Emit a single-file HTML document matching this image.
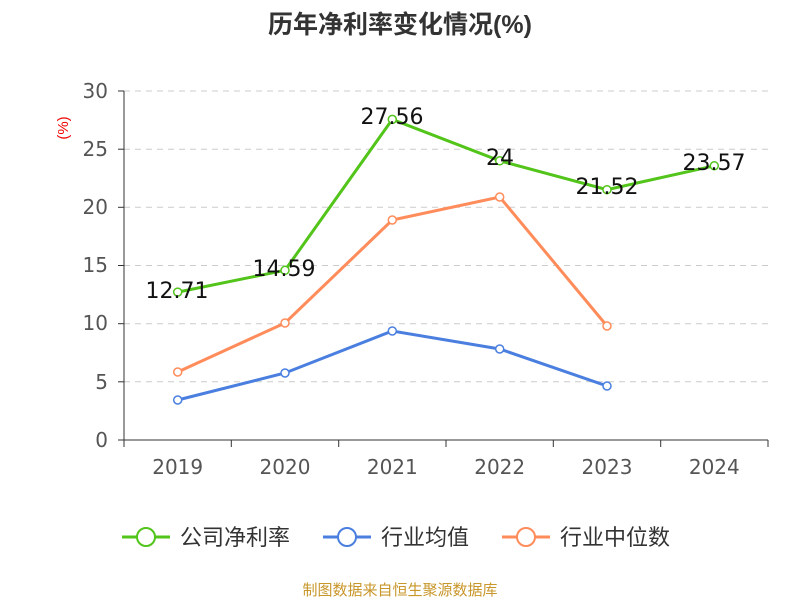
<!DOCTYPE html>
<html><head><meta charset="utf-8"><style>
body{margin:0;background:#fff;}
svg text{font-family:"Liberation Sans","Noto Sans CJK SC",sans-serif;}
svg .n{font-family:"DejaVu Sans",sans-serif;}
</style></head><body>
<svg width="800" height="600" xmlns="http://www.w3.org/2000/svg">
<text x="400" y="33" text-anchor="middle" font-size="25" font-weight="bold" fill="#333">历年净利率变化情况(%)</text>
<text x="68" y="128" text-anchor="middle" font-size="15" fill="#e00" transform="rotate(-90 68 128)">(%)</text>
<g stroke="#ccc" stroke-dasharray="6,5" stroke-width="1">
<line x1="124" x2="768" y1="91" y2="91"/><line x1="124" x2="768" y1="149.2" y2="149.2"/>
<line x1="124" x2="768" y1="207.3" y2="207.3"/><line x1="124" x2="768" y1="265.5" y2="265.5"/>
<line x1="124" x2="768" y1="323.7" y2="323.7"/><line x1="124" x2="768" y1="381.8" y2="381.8"/>
</g>
<g stroke="#333" stroke-width="1">
<line x1="124" x2="124" y1="91" y2="440"/>
<line x1="124" x2="768" y1="440" y2="440"/>
<line x1="118" x2="124" y1="91" y2="91"/><line x1="118" x2="124" y1="149.2" y2="149.2"/>
<line x1="118" x2="124" y1="207.3" y2="207.3"/><line x1="118" x2="124" y1="265.5" y2="265.5"/>
<line x1="118" x2="124" y1="323.7" y2="323.7"/><line x1="118" x2="124" y1="381.8" y2="381.8"/>
<line x1="118" x2="124" y1="440" y2="440"/>
<line x1="124" x2="124" y1="440" y2="447"/><line x1="231.3" x2="231.3" y1="440" y2="447"/>
<line x1="338.7" x2="338.7" y1="440" y2="447"/><line x1="446" x2="446" y1="440" y2="447"/>
<line x1="553.3" x2="553.3" y1="440" y2="447"/><line x1="660.7" x2="660.7" y1="440" y2="447"/>
<line x1="768" x2="768" y1="440" y2="447"/>
</g>
<g class="n" font-size="20" fill="#555" text-anchor="end">
<text class="n" x="108" y="98">30</text><text class="n" x="108" y="156">25</text><text class="n" x="108" y="214">20</text>
<text class="n" x="108" y="272">15</text><text class="n" x="108" y="330">10</text><text class="n" x="108" y="389">5</text><text class="n" x="108" y="447">0</text>
</g>
<g font-size="20" fill="#555" text-anchor="middle">
<text class="n" x="177.7" y="474">2019</text><text class="n" x="285" y="474">2020</text><text class="n" x="392.3" y="474">2021</text>
<text class="n" x="499.7" y="474">2022</text><text class="n" x="607" y="474">2023</text><text class="n" x="714.3" y="474">2024</text>
</g>
<g fill="none" stroke-width="3">
<polyline stroke="#52c41a" points="177.7,292.1 285,270.3 392.3,119.4 499.7,160.8 607,189.7 714.3,165.8"/>
<polyline stroke="#4a7fe0" points="177.7,400 285,373 392.3,331 499.7,349 607,386"/>
<polyline stroke="#ff8c5a" points="177.7,372 285,323 392.3,220 499.7,197 607,326"/>
</g>
<g fill="#fff" stroke-width="1.5">
<g stroke="#52c41a"><circle cx="177.7" cy="292.1" r="4"/><circle cx="285" cy="270.3" r="4"/><circle cx="392.3" cy="119.4" r="4"/><circle cx="499.7" cy="160.8" r="4"/><circle cx="607" cy="189.7" r="4"/><circle cx="714.3" cy="165.8" r="4"/></g>
<g stroke="#4a7fe0"><circle cx="177.7" cy="400" r="4"/><circle cx="285" cy="373" r="4"/><circle cx="392.3" cy="331" r="4"/><circle cx="499.7" cy="349" r="4"/><circle cx="607" cy="386" r="4"/></g>
<g stroke="#ff8c5a"><circle cx="177.7" cy="372" r="4"/><circle cx="285" cy="323" r="4"/><circle cx="392.3" cy="220" r="4"/><circle cx="499.7" cy="197" r="4"/><circle cx="607" cy="326" r="4"/></g>
</g>
<g font-size="22" fill="#111" text-anchor="middle">
<text class="n" x="177" y="298">12.71</text><text class="n" x="284" y="276">14.59</text><text class="n" x="392" y="124">27.56</text>
<text class="n" x="500" y="165">24</text><text class="n" x="607" y="194">21.52</text><text class="n" x="714" y="170">23.57</text>
</g>
<g stroke-width="3" fill="#fff">
<line x1="122" x2="170" y1="537" y2="537" stroke="#52c41a"/><circle cx="146" cy="537" r="9" stroke="#52c41a" stroke-width="2"/>
<line x1="323" x2="371" y1="537" y2="537" stroke="#4a7fe0"/><circle cx="347" cy="537" r="9" stroke="#4a7fe0" stroke-width="2"/>
<line x1="502" x2="550" y1="537" y2="537" stroke="#ff8c5a"/><circle cx="526" cy="537" r="9" stroke="#ff8c5a" stroke-width="2"/>
</g>
<g font-size="22" fill="#333">
<text x="180" y="545">公司净利率</text><text x="381" y="545">行业均值</text><text x="560" y="545">行业中位数</text>
</g>
<text x="400" y="595" text-anchor="middle" font-size="15" fill="#c8962a">制图数据来自恒生聚源数据库</text>
</svg>
</body></html>
